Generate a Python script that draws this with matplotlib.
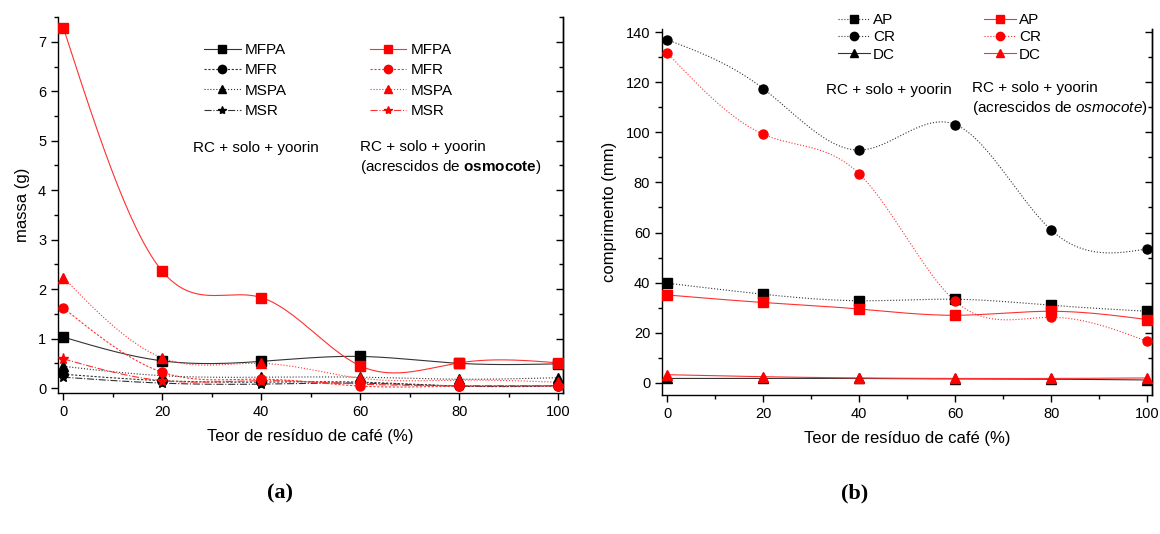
import numpy as np
import matplotlib
matplotlib.use("Agg")
import matplotlib.pyplot as plt
from matplotlib.ticker import MultipleLocator

plt.rcParams['font.family'] = ['Liberation Sans', 'DejaVu Sans']
plt.rcParams['mathtext.fontset'] = 'custom'
plt.rcParams['mathtext.rm'] = 'Liberation Sans'
plt.rcParams['mathtext.bf'] = 'Liberation Sans:bold'
plt.rcParams['mathtext.it'] = 'Liberation Sans:italic'

# teor de resíduo de café (%)
teor = [0, 20, 40, 60, 80, 100]

# (a) massa (g) - RC + solo + yoorin
mfpa = [1.03, 0.55, 0.54, 0.64, 0.50, 0.49]
mfr = [0.28, 0.15, 0.12, 0.12, 0.04, 0.04]
mspa = [0.44, 0.25, 0.22, 0.22, 0.18, 0.21]
msr = [0.22, 0.10, 0.08, 0.10, 0.04, 0.05]
# (a) massa (g) - acrescidos de osmocote
mfpa_osm = [7.28, 2.36, 1.83, 0.45, 0.51, 0.51]
mfr_osm = [1.62, 0.32, 0.18, 0.04, 0.04, 0.04]
mspa_osm = [2.23, 0.61, 0.50, 0.20, 0.16, 0.12]
msr_osm = [0.59, 0.15, 0.15, 0.08, 0.05, 0.05]

# (b) comprimento (mm) - RC + solo + yoorin
ap = [39.8, 35.4, 32.8, 33.4, 31.0, 28.6]
cr = [136.9, 117.4, 92.9, 103.1, 61.0, 53.5]
dc = [1.8, 1.8, 1.8, 1.6, 1.5, 1.2]
# (b) comprimento (mm) - acrescidos de osmocote
ap_osm = [35.1, 32.1, 29.5, 27.0, 28.6, 25.3]
cr_osm = [131.6, 99.2, 83.4, 32.6, 26.2, 16.6]
dc_osm = [3.3, 2.5, 2.0, 1.8, 1.8, 2.0]


def spline(x, y, n=300):
    # natural cubic spline through the points
    x = np.asarray(x, float)
    y = np.asarray(y, float)
    h = np.diff(x)
    m = len(x)
    A = np.zeros((m, m))
    r = np.zeros(m)
    A[0, 0] = A[-1, -1] = 1
    for i in range(1, m - 1):
        A[i, i - 1] = h[i - 1]
        A[i, i] = 2 * (h[i - 1] + h[i])
        A[i, i + 1] = h[i]
        r[i] = 3 * ((y[i + 1] - y[i]) / h[i] - (y[i] - y[i - 1]) / h[i - 1])
    c = np.linalg.solve(A, r)
    b = (y[1:] - y[:-1]) / h - h * (2 * c[:-1] + c[1:]) / 3
    d = (c[1:] - c[:-1]) / (3 * h)
    xs = np.linspace(x[0], x[-1], n)
    idx = np.clip(np.searchsorted(x, xs) - 1, 0, m - 2)
    dx = xs - x[idx]
    ys = y[idx] + b[idx] * dx + c[idx] * dx**2 + d[idx] * dx**3
    return xs, ys


def serie(ax, y, color, ls, marker, ms=6.5):
    xs, ys = spline(teor, y)
    lc = '#333333' if color == 'black' else '#ff3030'
    ax.plot(xs, ys, color=lc, lw=0.8, ls=ls, zorder=2)
    ax.plot(teor, y, ls='none', marker=marker, color=color, ms=ms, zorder=3)
    return plt.Line2D([], [], color=lc, lw=0.8, ls=ls, marker=marker,
                      markerfacecolor=color, markeredgecolor=color, ms=6)


def estilo(ax, ymin, ymax, ymaj, ymin_step):
    ax.set_xlim(teor[0] - 1.1, teor[-1] + 1.0)
    ax.set_ylim(ymin, ymax)
    ax.spines['top'].set_visible(False)
    for s in ('left', 'bottom', 'right'):
        ax.spines[s].set_linewidth(1.0)
    ax.xaxis.set_major_locator(MultipleLocator(20))
    ax.xaxis.set_minor_locator(MultipleLocator(10))
    ax.yaxis.set_major_locator(MultipleLocator(ymaj))
    ax.yaxis.set_minor_locator(MultipleLocator(ymin_step))
    ax.tick_params(which='major', direction='out', length=5, width=1, labelsize=10.5)
    ax.tick_params(which='minor', direction='out', length=3, width=1)
    sec = ax.secondary_yaxis('right')
    sec.yaxis.set_major_locator(MultipleLocator(ymaj))
    sec.yaxis.set_minor_locator(MultipleLocator(ymin_step))
    sec.tick_params(which='major', direction='in', length=5, width=1, labelright=False)
    sec.tick_params(which='minor', direction='in', length=3, width=1)
    sec.spines['right'].set_linewidth(1.0)
    ax.set_xlabel('Teor de resíduo de café (%)', fontsize=12, labelpad=7)


fig = plt.figure(figsize=(11.6, 5.34), dpi=100)
ax1 = fig.add_axes([0.05, 0.264, 0.4353, 0.704])
ax2 = fig.add_axes([0.5707, 0.2603, 0.4224, 0.6854])

# (a) massa
h_a = [
    serie(ax1, mfpa, 'black', '-', 's'),
    serie(ax1, mfr, 'black', (0, (2, 1.5)), 'o'),
    serie(ax1, mspa, 'black', ':', '^'),
    serie(ax1, msr, 'black', '-.', '*', ms=8),
    serie(ax1, mfpa_osm, 'red', '-', 's'),
    serie(ax1, mfr_osm, 'red', (0, (2, 1.5)), 'o'),
    serie(ax1, mspa_osm, 'red', ':', '^'),
    serie(ax1, msr_osm, 'red', '-.', '*', ms=8),
]
estilo(ax1, -0.1, 7.5, 1, 0.5)
ax1.set_ylabel('massa (g)', fontsize=12, labelpad=6)
fig.legend(h_a, ['MFPA', 'MFR', 'MSPA', 'MSR'] * 2, ncol=2, frameon=False,
           loc='upper left', bbox_to_anchor=(204 / 1160, 1 - 43 / 534),
           fontsize=11, handlelength=2.4, handletextpad=0.3, columnspacing=5.4,
           labelspacing=0.42, borderpad=0, borderaxespad=0)
ax1.text(193 / 1160, 1 - 148 / 534, 'RC + solo + yoorin', transform=fig.transFigure,
         fontsize=11, va='center')
ax1.text(360 / 1160, 1 - 158 / 534,
         'RC + solo + yoorin\n(acrescidos de $\\mathbf{osmocote}$)',
         transform=fig.transFigure, fontsize=11, va='center', linespacing=1.3)

# (b) comprimento
h_b = [
    serie(ax2, ap, 'black', ':', 's'),
    serie(ax2, cr, 'black', ':', 'o'),
    serie(ax2, dc, 'black', '-', '^'),
    serie(ax2, ap_osm, 'red', '-', 's'),
    serie(ax2, cr_osm, 'red', ':', 'o'),
    serie(ax2, dc_osm, 'red', '-', '^'),
]
estilo(ax2, -4.8, 141.2, 20, 10)
ax2.set_ylabel('comprimento (mm)', fontsize=12, labelpad=6)
fig.legend(h_b, ['AP', 'CR', 'DC'] * 2, ncol=2, frameon=False,
           loc='upper left', bbox_to_anchor=(838 / 1160, 1 - 13 / 534),
           fontsize=11, handlelength=2.1, handletextpad=0.2, columnspacing=5.8,
           labelspacing=0.22, borderpad=0, borderaxespad=0)
ax2.text(826 / 1160, 1 - 90 / 534, 'RC + solo + yoorin', transform=fig.transFigure,
         fontsize=11, va='center')
ax2.text(972 / 1160, 1 - 99 / 534,
         'RC + solo + yoorin\n(acrescidos de $\\mathit{osmocote}$)',
         transform=fig.transFigure, fontsize=11, va='center', linespacing=1.3)

fig.text(280 / 1160, 1 - 493 / 534, '(a)', fontsize=16, fontweight='bold',
         family='Liberation Serif', ha='center', va='center')
fig.text(855 / 1160, 1 - 493 / 534, '(b)', fontsize=16, fontweight='bold',
         family='Liberation Serif', ha='center', va='center')

fig.savefig('out.png', dpi=100)
